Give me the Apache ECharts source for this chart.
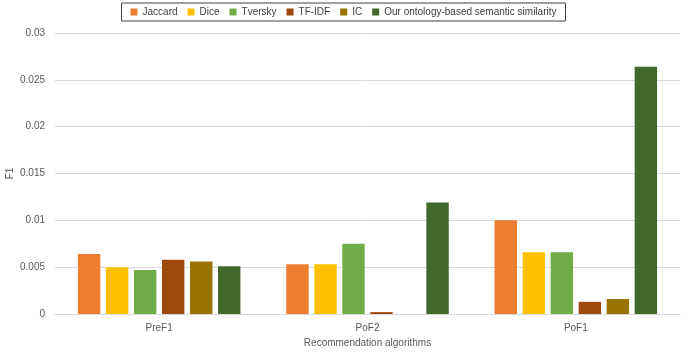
<!DOCTYPE html>
<html>
<head>
<meta charset="utf-8">
<script src="https://cdn.jsdelivr.net/npm/echarts@6/dist/echarts.min.js"></script>
<style>
  html, body { margin: 0; padding: 0; background: #fff; }
  #chart { width: 687px; height: 354px; }
</style>
</head>
<body>
<div id="chart"></div>
<script>
  var categories = ['PreF1', 'PoF2', 'PoF1'];
  var seriesNames = ['Jaccard', 'Dice', 'Tversky', 'TF-IDF', 'IC', 'Our ontology-based semantic similarity'];
  var jaccard = [0.0064, 0.0053, 0.0100];
  var dice = [0.0050, 0.0053, 0.0066];
  var tversky = [0.0047, 0.0075, 0.0066];
  var tfidf = [0.0058, 0.0002, 0.0013];
  var ic = [0.0056, 0, 0.0016];
  var ours = [0.0051, 0.0119, 0.0264];
  var yTicks = [0, 0.005, 0.01, 0.015, 0.02, 0.025, 0.03];

  var colors = ['#ED7D31', '#FFC000', '#70AD47', '#9E480E', '#997300', '#43682B'];
  var values = [jaccard, dice, tversky, tfidf, ic, ours];

  var font = 'Liberation Sans, Arial, sans-serif';

  var myChart = echarts.init(document.getElementById('chart'));
  myChart.setOption({
    animation: false,
    textStyle: { fontFamily: font },
    legend: {
      data: seriesNames,
      top: 3,
      left: 'center',
      icon: 'rect',
      itemWidth: 7,
      itemHeight: 7,
      itemGap: 10,
      padding: [4, 9, 4, 9],
      borderColor: '#404040',
      borderWidth: 1,
      textStyle: { fontSize: 10, color: '#404040', fontFamily: font }
    },
    grid: { left: 55, right: 7, top: 33, bottom: 40, outerBoundsMode: 'none', containLabel: false },
    xAxis: {
      type: 'category',
      data: categories,
      name: 'Recommendation algorithms',
      nameLocation: 'middle',
      nameGap: 24,
      nameTextStyle: { fontSize: 10, color: '#595959' },
      axisLine: { lineStyle: { color: '#d9d9d9' } },
      axisTick: { show: false },
      axisLabel: { fontSize: 10, color: '#595959', margin: 9 }
    },
    yAxis: {
      type: 'value',
      min: 0,
      max: 0.03,
      interval: 0.005,
      name: 'F1',
      nameLocation: 'middle',
      nameGap: 40,
      nameMoveOverlap: false,
      nameTextStyle: { fontSize: 10, color: '#595959' },
      axisLine: { show: false },
      axisTick: { show: false },
      splitLine: { lineStyle: { color: '#d9d9d9' } },
      axisLabel: {
        fontSize: 10,
        color: '#595959',
        margin: 10,
        formatter: function (v) {
          var t = yTicks.find(function (x) { return Math.abs(x - v) < 1e-9; });
          return t === undefined ? '' : String(t);
        }
      }
    },
    series: seriesNames.map(function (name, i) {
      return {
        name: name,
        type: 'bar',
        data: values[i],
        barGap: '25%',
        barCategoryGap: '22%',
        itemStyle: { color: colors[i] }
      };
    })
  });
</script>
</body>
</html>
